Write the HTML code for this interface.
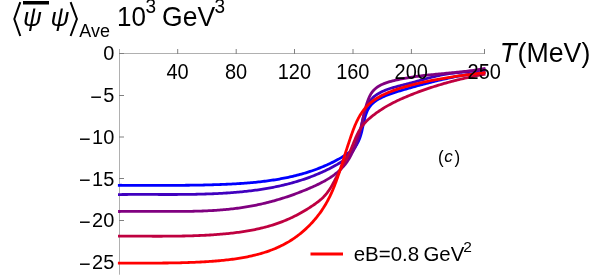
<!DOCTYPE html>
<html><head><meta charset="utf-8">
<style>
html,body{margin:0;padding:0;background:#fff;}
body{width:600px;height:278px;overflow:hidden;position:relative;font-family:"Liberation Sans",sans-serif;}
svg{position:absolute;left:0;top:0;will-change:transform;}
text{font-family:"Liberation Sans",sans-serif;fill:#000;}
</style></head><body>
<svg width="600" height="278" viewBox="0 0 600 278">
<g stroke="#b0b0b0" stroke-width="1" fill="none">
<line x1="119.5" y1="49" x2="119.5" y2="274.7"/>
<line x1="119.5" y1="53.5" x2="485" y2="53.5"/>
</g>
<g stroke="#808080" stroke-width="1" fill="none">
<line x1="177.70" y1="54.0" x2="177.70" y2="49"/>
<line x1="236.20" y1="54.0" x2="236.20" y2="49"/>
<line x1="294.50" y1="54.0" x2="294.50" y2="49"/>
<line x1="353.00" y1="54.0" x2="353.00" y2="49"/>
<line x1="411.40" y1="54.0" x2="411.40" y2="49"/>
<line x1="484.50" y1="54.0" x2="484.50" y2="49"/>
<line x1="119.0" y1="53.50" x2="124" y2="53.50"/>
<line x1="119.0" y1="95.50" x2="124" y2="95.50"/>
<line x1="119.0" y1="137.00" x2="124" y2="137.00"/>
<line x1="119.0" y1="178.50" x2="124" y2="178.50"/>
<line x1="119.0" y1="220.50" x2="124" y2="220.50"/>
<line x1="119.0" y1="262.50" x2="124" y2="262.50"/>
</g>
<g fill="none" stroke-width="2.8" stroke-linecap="butt" stroke-linejoin="round">
<path stroke="#0000ff" d="M117.90,185.28 L119.43,185.28 L120.96,185.27 L122.49,185.28 L124.02,185.28 L125.54,185.28 L127.07,185.28 L128.59,185.28 L130.11,185.28 L131.64,185.29 L133.16,185.29 L134.67,185.29 L136.19,185.30 L137.71,185.30 L139.23,185.31 L140.74,185.31 L142.26,185.32 L143.77,185.32 L145.28,185.33 L146.79,185.33 L148.30,185.33 L149.81,185.34 L151.32,185.34 L152.83,185.35 L154.34,185.35 L155.85,185.35 L157.36,185.35 L158.86,185.36 L160.37,185.36 L161.88,185.36 L163.38,185.36 L164.89,185.36 L166.39,185.36 L167.89,185.36 L169.40,185.36 L170.90,185.35 L172.41,185.35 L173.91,185.34 L175.41,185.34 L176.92,185.33 L178.42,185.32 L179.92,185.32 L181.42,185.31 L182.93,185.29 L184.43,185.28 L185.93,185.27 L187.44,185.25 L188.94,185.24 L190.44,185.22 L191.95,185.20 L193.45,185.18 L194.95,185.16 L196.46,185.14 L197.96,185.11 L199.47,185.08 L200.97,185.06 L202.48,185.03 L203.99,184.99 L205.49,184.96 L207.00,184.92 L208.51,184.89 L210.02,184.85 L211.53,184.81 L213.04,184.76 L214.55,184.72 L216.06,184.67 L217.57,184.62 L219.08,184.57 L220.60,184.51 L222.11,184.45 L223.63,184.39 L225.14,184.33 L226.66,184.27 L228.18,184.20 L229.69,184.13 L231.21,184.05 L232.73,183.97 L234.25,183.89 L235.77,183.81 L237.28,183.72 L238.80,183.62 L240.32,183.52 L241.84,183.42 L243.35,183.31 L244.87,183.20 L246.39,183.09 L247.90,182.96 L249.42,182.84 L250.93,182.71 L252.45,182.57 L253.96,182.43 L255.47,182.28 L256.98,182.12 L258.49,181.96 L260.00,181.80 L261.51,181.62 L263.02,181.45 L264.52,181.26 L266.02,181.07 L267.53,180.87 L269.03,180.66 L270.53,180.45 L272.02,180.23 L273.52,180.00 L275.01,179.76 L276.50,179.52 L277.99,179.27 L279.48,179.01 L280.97,178.74 L282.45,178.46 L283.93,178.18 L285.41,177.89 L286.88,177.58 L288.36,177.27 L289.83,176.95 L291.30,176.62 L292.76,176.28 L294.22,175.94 L295.68,175.58 L297.14,175.21 L298.59,174.83 L300.04,174.44 L301.49,174.04 L302.93,173.64 L304.37,173.22 L305.81,172.79 L307.24,172.35 L308.67,171.89 L310.10,171.43 L311.52,170.96 L312.94,170.47 L314.35,169.97 L315.77,169.46 L317.17,168.94 L318.57,168.41 L319.97,167.86 L321.37,167.31 L322.76,166.74 L324.14,166.15 L325.52,165.56 L326.90,164.95 L328.27,164.33 L329.64,163.69 L331.00,163.04 L332.36,162.38 L333.71,161.71 L335.06,161.02 L336.40,160.31 L337.73,159.60 L339.07,158.86 L340.39,158.12 L341.71,157.36 L343.03,156.58 L344.33,155.79 L345.62,154.97 L346.89,154.14 L348.13,153.27 L349.34,152.37 L350.50,151.43 L351.63,150.46 L352.70,149.44 L353.72,148.38 L354.68,147.26 L355.57,146.10 L356.40,144.89 L357.18,143.64 L357.90,142.35 L358.56,141.01 L359.17,139.64 L359.73,138.24 L360.24,136.80 L360.70,135.33 L361.13,133.85 L361.53,132.34 L361.90,130.82 L362.25,129.29 L362.59,127.75 L362.92,126.21 L363.25,124.67 L363.58,123.13 L363.93,121.60 L364.28,120.09 L364.66,118.59 L365.06,117.12 L365.49,115.67 L365.96,114.24 L366.47,112.86 L367.03,111.50 L367.65,110.19 L368.32,108.93 L369.06,107.71 L369.87,106.55 L370.75,105.44 L371.70,104.38 L372.70,103.37 L373.77,102.42 L374.90,101.52 L376.09,100.67 L377.33,99.86 L378.61,99.10 L379.93,98.38 L381.28,97.70 L382.65,97.05 L384.05,96.42 L385.46,95.82 L386.88,95.24 L388.31,94.69 L389.75,94.15 L391.20,93.63 L392.66,93.12 L394.12,92.63 L395.58,92.16 L397.05,91.69 L398.53,91.24 L400.00,90.79 L401.48,90.35 L402.95,89.92 L404.43,89.49 L405.90,89.07 L407.38,88.65 L408.85,88.23 L410.31,87.81 L411.78,87.40 L413.24,86.98 L414.71,86.58 L416.17,86.17 L417.63,85.77 L419.09,85.37 L420.55,84.97 L422.00,84.58 L423.46,84.19 L424.92,83.81 L426.37,83.42 L427.83,83.05 L429.28,82.67 L430.74,82.30 L432.19,81.93 L433.65,81.57 L435.10,81.21 L436.56,80.86 L438.01,80.51 L439.47,80.16 L440.93,79.82 L442.39,79.49 L443.84,79.15 L445.31,78.83 L446.77,78.51 L448.23,78.19 L449.69,77.88 L451.16,77.57 L452.63,77.27 L454.10,76.97 L455.57,76.68 L457.04,76.39 L458.51,76.11 L459.99,75.84 L461.47,75.57 L462.95,75.30 L464.44,75.05 L465.93,74.79 L467.42,74.55 L468.91,74.31 L470.41,74.08 L471.91,73.85 L473.41,73.63 L474.92,73.41 L476.43,73.21 L477.95,73.00 L479.46,72.81 L480.99,72.62 L482.51,72.44 L484.04,72.27 L485.58,72.10"/>
<path stroke="#4000bf" d="M117.98,194.57 L119.50,194.55 L121.01,194.53 L122.52,194.52 L124.04,194.50 L125.55,194.49 L127.06,194.48 L128.58,194.47 L130.09,194.46 L131.60,194.46 L133.11,194.45 L134.63,194.45 L136.14,194.44 L137.65,194.44 L139.16,194.44 L140.67,194.44 L142.18,194.44 L143.69,194.44 L145.20,194.45 L146.71,194.45 L148.22,194.45 L149.74,194.45 L151.25,194.46 L152.76,194.46 L154.27,194.47 L155.78,194.47 L157.28,194.47 L158.79,194.48 L160.30,194.48 L161.81,194.48 L163.32,194.49 L164.83,194.49 L166.34,194.49 L167.85,194.49 L169.36,194.49 L170.87,194.49 L172.38,194.49 L173.89,194.48 L175.39,194.48 L176.90,194.48 L178.41,194.47 L179.92,194.46 L181.43,194.45 L182.94,194.44 L184.45,194.43 L185.96,194.41 L187.46,194.39 L188.97,194.38 L190.48,194.36 L191.99,194.33 L193.50,194.31 L195.01,194.28 L196.52,194.25 L198.03,194.22 L199.54,194.18 L201.04,194.15 L202.55,194.11 L204.06,194.06 L205.57,194.02 L207.08,193.97 L208.59,193.92 L210.10,193.86 L211.61,193.80 L213.12,193.74 L214.63,193.67 L216.14,193.61 L217.65,193.53 L219.16,193.46 L220.67,193.38 L222.18,193.29 L223.69,193.20 L225.20,193.11 L226.71,193.02 L228.22,192.92 L229.73,192.81 L231.24,192.70 L232.75,192.59 L234.26,192.47 L235.77,192.34 L237.28,192.21 L238.79,192.08 L240.29,191.94 L241.80,191.79 L243.30,191.64 L244.81,191.48 L246.31,191.32 L247.82,191.15 L249.32,190.98 L250.82,190.80 L252.32,190.61 L253.82,190.42 L255.32,190.22 L256.82,190.02 L258.31,189.80 L259.81,189.59 L261.30,189.36 L262.79,189.13 L264.28,188.89 L265.77,188.64 L267.26,188.39 L268.74,188.12 L270.22,187.85 L271.71,187.58 L273.19,187.29 L274.66,187.00 L276.14,186.70 L277.61,186.39 L279.09,186.07 L280.56,185.75 L282.02,185.41 L283.49,185.07 L284.95,184.72 L286.41,184.36 L287.87,183.99 L289.33,183.61 L290.78,183.23 L292.23,182.83 L293.68,182.43 L295.13,182.01 L296.57,181.59 L298.01,181.15 L299.45,180.71 L300.89,180.25 L302.32,179.79 L303.75,179.32 L305.17,178.83 L306.60,178.34 L308.02,177.83 L309.43,177.32 L310.85,176.79 L312.26,176.25 L313.66,175.70 L315.07,175.15 L316.47,174.57 L317.86,173.99 L319.25,173.40 L320.64,172.80 L322.03,172.18 L323.41,171.55 L324.79,170.91 L326.16,170.26 L327.53,169.60 L328.90,168.92 L330.26,168.23 L331.62,167.53 L332.97,166.82 L334.32,166.09 L335.66,165.35 L336.99,164.60 L338.31,163.82 L339.61,163.03 L340.90,162.21 L342.16,161.38 L343.39,160.51 L344.60,159.63 L345.77,158.71 L346.90,157.76 L348.00,156.78 L349.06,155.77 L350.07,154.72 L351.03,153.63 L351.94,152.51 L352.80,151.34 L353.60,150.13 L354.35,148.89 L355.05,147.60 L355.70,146.29 L356.31,144.94 L356.88,143.56 L357.42,142.16 L357.91,140.73 L358.38,139.27 L358.81,137.80 L359.22,136.31 L359.60,134.80 L359.97,133.27 L360.31,131.74 L360.64,130.19 L360.96,128.64 L361.27,127.08 L361.58,125.52 L361.88,123.96 L362.19,122.41 L362.51,120.86 L362.84,119.32 L363.18,117.80 L363.54,116.28 L363.91,114.79 L364.32,113.31 L364.75,111.86 L365.22,110.43 L365.72,109.03 L366.26,107.66 L366.84,106.32 L367.47,105.02 L368.15,103.75 L368.88,102.53 L369.67,101.35 L370.53,100.22 L371.44,99.14 L372.43,98.10 L373.47,97.12 L374.58,96.19 L375.75,95.31 L376.97,94.47 L378.23,93.68 L379.53,92.93 L380.86,92.22 L382.23,91.55 L383.62,90.92 L385.03,90.33 L386.46,89.77 L387.90,89.25 L389.35,88.76 L390.81,88.29 L392.28,87.84 L393.76,87.41 L395.24,87.01 L396.72,86.61 L398.21,86.22 L399.70,85.85 L401.19,85.47 L402.68,85.10 L404.16,84.73 L405.64,84.35 L407.11,83.97 L408.58,83.58 L410.05,83.18 L411.50,82.78 L412.96,82.38 L414.41,81.98 L415.86,81.57 L417.31,81.16 L418.75,80.76 L420.19,80.35 L421.63,79.95 L423.07,79.55 L424.51,79.15 L425.95,78.76 L427.39,78.37 L428.83,77.98 L430.28,77.61 L431.72,77.24 L433.17,76.88 L434.62,76.53 L436.07,76.19 L437.52,75.85 L438.98,75.54 L440.45,75.23 L441.92,74.93 L443.39,74.65 L444.87,74.39 L446.36,74.14 L447.85,73.90 L449.35,73.68 L450.85,73.46 L452.35,73.26 L453.86,73.07 L455.38,72.89 L456.89,72.72 L458.41,72.55 L459.93,72.39 L461.45,72.24 L462.97,72.08 L464.49,71.93 L466.01,71.79 L467.53,71.64 L469.04,71.49 L470.56,71.34 L472.07,71.18 L473.58,71.02 L475.09,70.86 L476.59,70.69 L478.09,70.52 L479.58,70.33 L481.07,70.14 L482.55,69.93 L484.02,69.71 L485.49,69.49"/>
<path stroke="#800080" d="M118.09,211.51 L119.58,211.48 L121.08,211.45 L122.57,211.42 L124.07,211.40 L125.56,211.38 L127.06,211.36 L128.56,211.34 L130.06,211.33 L131.56,211.32 L133.07,211.31 L134.57,211.30 L136.07,211.30 L137.58,211.30 L139.08,211.30 L140.59,211.30 L142.10,211.30 L143.60,211.31 L145.11,211.31 L146.62,211.32 L148.13,211.32 L149.64,211.33 L151.15,211.34 L152.66,211.35 L154.18,211.36 L155.69,211.37 L157.20,211.38 L158.71,211.39 L160.23,211.40 L161.74,211.41 L163.26,211.42 L164.77,211.42 L166.28,211.43 L167.80,211.44 L169.31,211.44 L170.83,211.44 L172.35,211.45 L173.86,211.45 L175.38,211.45 L176.89,211.44 L178.41,211.44 L179.92,211.43 L181.44,211.42 L182.95,211.41 L184.47,211.40 L185.98,211.38 L187.50,211.36 L189.01,211.34 L190.53,211.32 L192.04,211.29 L193.56,211.26 L195.07,211.22 L196.59,211.18 L198.10,211.14 L199.61,211.09 L201.12,211.04 L202.63,210.99 L204.15,210.93 L205.66,210.87 L207.17,210.80 L208.68,210.72 L210.19,210.65 L211.69,210.56 L213.20,210.48 L214.71,210.38 L216.21,210.28 L217.72,210.18 L219.22,210.07 L220.73,209.95 L222.23,209.83 L223.73,209.70 L225.23,209.57 L226.73,209.43 L228.23,209.28 L229.73,209.12 L231.23,208.96 L232.73,208.79 L234.22,208.62 L235.71,208.44 L237.21,208.25 L238.70,208.05 L240.19,207.84 L241.68,207.63 L243.17,207.41 L244.65,207.18 L246.14,206.94 L247.62,206.69 L249.10,206.44 L250.59,206.17 L252.06,205.90 L253.54,205.62 L255.02,205.33 L256.49,205.03 L257.97,204.72 L259.44,204.41 L260.91,204.08 L262.38,203.75 L263.85,203.41 L265.31,203.06 L266.77,202.70 L268.24,202.33 L269.69,201.95 L271.15,201.57 L272.61,201.18 L274.06,200.78 L275.52,200.37 L276.97,199.95 L278.41,199.53 L279.86,199.09 L281.30,198.65 L282.75,198.20 L284.19,197.74 L285.62,197.28 L287.06,196.80 L288.49,196.32 L289.93,195.83 L291.35,195.33 L292.78,194.83 L294.21,194.31 L295.63,193.79 L297.05,193.26 L298.46,192.72 L299.88,192.18 L301.29,191.63 L302.70,191.07 L304.11,190.50 L305.51,189.92 L306.92,189.34 L308.32,188.75 L309.71,188.15 L311.11,187.55 L312.50,186.93 L313.89,186.31 L315.27,185.68 L316.64,185.04 L318.01,184.38 L319.37,183.71 L320.73,183.03 L322.07,182.34 L323.40,181.63 L324.72,180.90 L326.03,180.15 L327.33,179.39 L328.61,178.61 L329.87,177.81 L331.12,176.98 L332.36,176.14 L333.57,175.27 L334.77,174.38 L335.94,173.46 L337.10,172.52 L338.24,171.55 L339.35,170.56 L340.44,169.54 L341.50,168.48 L342.54,167.40 L343.55,166.30 L344.52,165.16 L345.47,164.00 L346.38,162.80 L347.25,161.59 L348.09,160.34 L348.88,159.06 L349.64,157.76 L350.37,156.43 L351.06,155.09 L351.72,153.72 L352.35,152.34 L352.95,150.94 L353.54,149.53 L354.10,148.11 L354.64,146.68 L355.17,145.25 L355.69,143.81 L356.19,142.37 L356.69,140.93 L357.18,139.49 L357.66,138.06 L358.14,136.63 L358.60,135.20 L359.06,133.77 L359.50,132.34 L359.92,130.91 L360.33,129.47 L360.72,128.03 L361.09,126.58 L361.45,125.14 L361.80,123.68 L362.14,122.23 L362.47,120.77 L362.81,119.30 L363.14,117.83 L363.47,116.36 L363.81,114.89 L364.16,113.41 L364.52,111.93 L364.89,110.45 L365.27,108.96 L365.68,107.48 L366.10,105.98 L366.55,104.49 L367.03,103.00 L367.53,101.50 L368.07,100.01 L368.65,98.54 L369.27,97.10 L369.95,95.71 L370.67,94.36 L371.46,93.08 L372.31,91.87 L373.23,90.75 L374.22,89.70 L375.26,88.72 L376.36,87.81 L377.52,86.97 L378.72,86.19 L379.97,85.47 L381.26,84.80 L382.59,84.18 L383.95,83.60 L385.34,83.07 L386.75,82.58 L388.19,82.12 L389.64,81.69 L391.12,81.29 L392.60,80.91 L394.08,80.54 L395.57,80.20 L397.07,79.86 L398.56,79.54 L400.05,79.23 L401.54,78.93 L403.04,78.64 L404.53,78.36 L406.03,78.09 L407.52,77.83 L409.02,77.58 L410.51,77.34 L412.01,77.11 L413.51,76.88 L415.01,76.66 L416.50,76.45 L418.00,76.25 L419.50,76.06 L421.00,75.87 L422.50,75.68 L424.00,75.50 L425.50,75.33 L427.00,75.16 L428.50,75.00 L430.00,74.84 L431.50,74.69 L433.00,74.53 L434.50,74.38 L436.01,74.24 L437.51,74.09 L439.01,73.95 L440.51,73.81 L442.01,73.67 L443.51,73.53 L445.01,73.39 L446.52,73.25 L448.02,73.11 L449.52,72.97 L451.02,72.83 L452.52,72.69 L454.02,72.54 L455.52,72.40 L457.02,72.25 L458.52,72.09 L460.02,71.94 L461.52,71.78 L463.02,71.62 L464.52,71.45 L466.02,71.28 L467.52,71.10 L469.02,70.91 L470.52,70.72 L472.02,70.53 L473.51,70.33 L475.01,70.12 L476.51,69.90 L478.00,69.68 L479.50,69.44 L480.99,69.20 L482.49,68.95 L483.98,68.69 L485.47,68.42"/>
<path stroke="#bf0040" d="M117.98,236.20 L119.49,236.19 L121.00,236.19 L122.52,236.18 L124.03,236.18 L125.54,236.18 L127.06,236.17 L128.57,236.17 L130.08,236.17 L131.59,236.17 L133.10,236.18 L134.62,236.18 L136.13,236.18 L137.64,236.19 L139.15,236.19 L140.66,236.19 L142.17,236.20 L143.68,236.20 L145.19,236.21 L146.70,236.21 L148.21,236.22 L149.72,236.22 L151.22,236.22 L152.73,236.23 L154.24,236.23 L155.75,236.23 L157.26,236.23 L158.77,236.23 L160.27,236.23 L161.78,236.23 L163.29,236.22 L164.80,236.22 L166.30,236.21 L167.81,236.21 L169.32,236.20 L170.83,236.18 L172.33,236.17 L173.84,236.16 L175.35,236.14 L176.85,236.12 L178.36,236.10 L179.87,236.08 L181.37,236.05 L182.88,236.02 L184.39,235.99 L185.89,235.96 L187.40,235.92 L188.91,235.88 L190.41,235.84 L191.92,235.80 L193.43,235.75 L194.93,235.70 L196.44,235.64 L197.95,235.58 L199.45,235.52 L200.96,235.45 L202.47,235.39 L203.97,235.31 L205.48,235.23 L206.99,235.15 L208.50,235.07 L210.00,234.98 L211.51,234.88 L213.02,234.78 L214.53,234.68 L216.04,234.57 L217.54,234.46 L219.05,234.34 L220.56,234.22 L222.07,234.09 L223.58,233.96 L225.09,233.82 L226.59,233.68 L228.10,233.52 L229.61,233.37 L231.11,233.20 L232.62,233.03 L234.12,232.86 L235.63,232.67 L237.13,232.48 L238.63,232.28 L240.13,232.07 L241.63,231.86 L243.12,231.63 L244.62,231.40 L246.11,231.16 L247.60,230.91 L249.09,230.65 L250.57,230.38 L252.06,230.10 L253.54,229.81 L255.01,229.51 L256.49,229.20 L257.96,228.88 L259.43,228.55 L260.89,228.21 L262.36,227.86 L263.82,227.49 L265.27,227.12 L266.72,226.73 L268.17,226.33 L269.61,225.91 L271.05,225.49 L272.49,225.05 L273.92,224.60 L275.35,224.13 L276.77,223.65 L278.19,223.16 L279.60,222.66 L281.01,222.13 L282.41,221.60 L283.81,221.05 L285.20,220.49 L286.59,219.91 L287.97,219.31 L289.34,218.70 L290.71,218.07 L292.08,217.43 L293.44,216.77 L294.79,216.10 L296.13,215.42 L297.47,214.71 L298.81,214.00 L300.13,213.27 L301.46,212.53 L302.77,211.78 L304.08,211.01 L305.38,210.24 L306.68,209.45 L307.97,208.65 L309.26,207.84 L310.54,207.02 L311.81,206.19 L313.07,205.35 L314.32,204.49 L315.56,203.62 L316.78,202.73 L317.97,201.82 L319.15,200.89 L320.30,199.93 L321.43,198.95 L322.52,197.94 L323.58,196.90 L324.60,195.82 L325.58,194.72 L326.53,193.58 L327.44,192.40 L328.32,191.20 L329.16,189.97 L329.98,188.72 L330.78,187.45 L331.55,186.16 L332.31,184.86 L333.05,183.54 L333.77,182.21 L334.49,180.87 L335.20,179.53 L335.90,178.18 L336.60,176.84 L337.31,175.50 L338.01,174.16 L338.72,172.82 L339.43,171.48 L340.14,170.15 L340.85,168.82 L341.56,167.50 L342.28,166.17 L343.00,164.85 L343.72,163.53 L344.44,162.21 L345.16,160.89 L345.88,159.57 L346.60,158.25 L347.30,156.92 L347.99,155.58 L348.67,154.23 L349.33,152.87 L349.97,151.49 L350.59,150.10 L351.20,148.70 L351.79,147.29 L352.37,145.88 L352.95,144.46 L353.52,143.04 L354.10,141.62 L354.68,140.21 L355.27,138.80 L355.87,137.41 L356.49,136.02 L357.12,134.66 L357.78,133.31 L358.47,131.98 L359.19,130.68 L359.94,129.41 L360.73,128.16 L361.56,126.95 L362.43,125.77 L363.35,124.62 L364.30,123.50 L365.29,122.41 L366.32,121.35 L367.37,120.32 L368.46,119.30 L369.57,118.31 L370.71,117.34 L371.87,116.39 L373.06,115.46 L374.26,114.54 L375.47,113.63 L376.70,112.74 L377.95,111.86 L379.20,110.99 L380.47,110.14 L381.74,109.30 L383.03,108.48 L384.32,107.68 L385.62,106.89 L386.93,106.12 L388.25,105.38 L389.57,104.65 L390.90,103.93 L392.23,103.23 L393.57,102.55 L394.91,101.88 L396.26,101.22 L397.62,100.58 L398.98,99.95 L400.35,99.32 L401.72,98.71 L403.09,98.11 L404.47,97.51 L405.85,96.92 L407.24,96.34 L408.63,95.77 L410.02,95.20 L411.42,94.64 L412.82,94.08 L414.22,93.53 L415.62,92.99 L417.03,92.45 L418.45,91.92 L419.86,91.40 L421.28,90.88 L422.70,90.37 L424.13,89.87 L425.55,89.37 L426.98,88.88 L428.42,88.40 L429.85,87.92 L431.29,87.45 L432.73,86.98 L434.17,86.52 L435.61,86.07 L437.06,85.62 L438.51,85.18 L439.96,84.74 L441.41,84.31 L442.86,83.89 L444.32,83.47 L445.77,83.06 L447.23,82.65 L448.69,82.25 L450.15,81.85 L451.62,81.47 L453.08,81.08 L454.55,80.71 L456.01,80.33 L457.48,79.97 L458.95,79.61 L460.42,79.25 L461.89,78.90 L463.36,78.56 L464.83,78.22 L466.30,77.89 L467.77,77.56 L469.24,77.24 L470.72,76.92 L472.19,76.61 L473.66,76.30 L475.14,76.00 L476.61,75.71 L478.08,75.42 L479.55,75.13 L481.03,74.85 L482.50,74.58 L483.97,74.31 L485.44,74.04"/>
<path stroke="#ff0000" d="M117.90,263.12 L119.43,263.11 L120.96,263.11 L122.49,263.10 L124.01,263.10 L125.53,263.09 L127.06,263.09 L128.58,263.09 L130.09,263.09 L131.61,263.08 L133.13,263.08 L134.64,263.08 L136.15,263.08 L137.67,263.08 L139.18,263.08 L140.69,263.08 L142.19,263.08 L143.70,263.08 L145.21,263.08 L146.71,263.08 L148.22,263.08 L149.72,263.08 L151.22,263.08 L152.72,263.07 L154.22,263.07 L155.72,263.07 L157.22,263.06 L158.72,263.05 L160.22,263.04 L161.72,263.03 L163.22,263.02 L164.71,263.01 L166.21,263.00 L167.71,262.98 L169.20,262.96 L170.70,262.94 L172.19,262.92 L173.69,262.90 L175.19,262.87 L176.68,262.84 L178.18,262.81 L179.68,262.78 L181.17,262.74 L182.67,262.70 L184.17,262.66 L185.67,262.62 L187.16,262.57 L188.66,262.52 L190.16,262.47 L191.66,262.41 L193.16,262.35 L194.66,262.29 L196.17,262.22 L197.67,262.15 L199.17,262.08 L200.68,262.00 L202.18,261.92 L203.69,261.84 L205.20,261.75 L206.71,261.65 L208.22,261.55 L209.73,261.45 L211.24,261.35 L212.76,261.23 L214.27,261.12 L215.79,261.00 L217.31,260.87 L218.82,260.74 L220.34,260.60 L221.86,260.46 L223.38,260.31 L224.90,260.15 L226.41,259.98 L227.93,259.81 L229.45,259.63 L230.96,259.44 L232.48,259.25 L233.99,259.04 L235.50,258.83 L237.01,258.61 L238.51,258.38 L240.01,258.14 L241.52,257.88 L243.01,257.62 L244.51,257.35 L246.00,257.07 L247.49,256.77 L248.97,256.47 L250.45,256.15 L251.93,255.82 L253.40,255.48 L254.86,255.13 L256.33,254.76 L257.78,254.38 L259.24,253.98 L260.68,253.58 L262.12,253.16 L263.56,252.72 L264.98,252.27 L266.41,251.80 L267.82,251.32 L269.23,250.83 L270.63,250.31 L272.03,249.79 L273.41,249.24 L274.79,248.68 L276.16,248.10 L277.52,247.51 L278.88,246.89 L280.23,246.26 L281.56,245.61 L282.89,244.95 L284.21,244.26 L285.52,243.56 L286.82,242.83 L288.11,242.09 L289.39,241.33 L290.66,240.54 L291.92,239.74 L293.17,238.91 L294.40,238.07 L295.63,237.21 L296.84,236.33 L298.05,235.43 L299.24,234.51 L300.41,233.57 L301.58,232.62 L302.73,231.65 L303.87,230.66 L305.00,229.66 L306.11,228.64 L307.21,227.60 L308.29,226.55 L309.36,225.48 L310.42,224.39 L311.45,223.30 L312.48,222.18 L313.49,221.06 L314.48,219.92 L315.46,218.76 L316.42,217.59 L317.36,216.41 L318.29,215.22 L319.20,214.02 L320.09,212.80 L320.97,211.57 L321.83,210.33 L322.66,209.08 L323.49,207.82 L324.29,206.54 L325.07,205.26 L325.83,203.97 L326.58,202.67 L327.31,201.35 L328.01,200.03 L328.70,198.71 L329.38,197.37 L330.04,196.02 L330.68,194.67 L331.30,193.31 L331.92,191.95 L332.52,190.57 L333.10,189.19 L333.68,187.81 L334.24,186.42 L334.79,185.02 L335.33,183.62 L335.86,182.21 L336.38,180.80 L336.89,179.39 L337.39,177.97 L337.88,176.55 L338.37,175.12 L338.85,173.70 L339.33,172.27 L339.80,170.83 L340.26,169.40 L340.72,167.96 L341.18,166.53 L341.64,165.09 L342.09,163.65 L342.54,162.21 L342.99,160.78 L343.44,159.34 L343.89,157.90 L344.34,156.47 L344.79,155.03 L345.24,153.60 L345.70,152.17 L346.16,150.74 L346.62,149.31 L347.09,147.89 L347.56,146.47 L348.03,145.04 L348.50,143.62 L348.98,142.20 L349.46,140.77 L349.94,139.34 L350.42,137.91 L350.90,136.48 L351.40,135.05 L351.90,133.62 L352.40,132.18 L352.93,130.76 L353.46,129.33 L354.01,127.91 L354.58,126.49 L355.17,125.08 L355.77,123.68 L356.40,122.29 L357.06,120.91 L357.73,119.54 L358.43,118.19 L359.16,116.86 L359.92,115.55 L360.70,114.26 L361.51,113.00 L362.35,111.76 L363.22,110.56 L364.13,109.38 L365.07,108.25 L366.04,107.14 L367.05,106.08 L368.09,105.05 L369.15,104.05 L370.25,103.08 L371.38,102.15 L372.54,101.25 L373.72,100.38 L374.93,99.54 L376.16,98.73 L377.42,97.95 L378.70,97.19 L379.99,96.46 L381.31,95.76 L382.65,95.07 L384.00,94.42 L385.37,93.78 L386.76,93.16 L388.16,92.57 L389.57,92.00 L390.99,91.44 L392.42,90.90 L393.86,90.38 L395.31,89.87 L396.77,89.38 L398.23,88.90 L399.70,88.44 L401.17,87.98 L402.64,87.54 L404.11,87.11 L405.59,86.69 L407.06,86.28 L408.53,85.87 L410.00,85.47 L411.47,85.09 L412.94,84.70 L414.41,84.33 L415.87,83.97 L417.34,83.61 L418.81,83.26 L420.28,82.92 L421.74,82.58 L423.21,82.25 L424.67,81.93 L426.14,81.61 L427.61,81.30 L429.07,81.00 L430.54,80.70 L432.01,80.41 L433.47,80.12 L434.94,79.84 L436.41,79.57 L437.88,79.30 L439.35,79.03 L440.82,78.77 L442.29,78.51 L443.76,78.26 L445.23,78.02 L446.70,77.77 L448.18,77.53 L449.65,77.30 L451.13,77.07 L452.60,76.84 L454.08,76.62 L455.56,76.40 L457.04,76.18 L458.53,75.96 L460.01,75.75 L461.50,75.54 L462.98,75.33 L464.47,75.13 L465.96,74.92 L467.46,74.72 L468.95,74.52 L470.45,74.32 L471.95,74.13 L473.45,73.93 L474.95,73.74 L476.45,73.54 L477.96,73.35 L479.47,73.16 L480.99,72.97 L482.50,72.78 L484.02,72.58 L485.54,72.39"/>

</g>
<line x1="310.5" y1="254" x2="343" y2="254" stroke="#ff0000" stroke-width="2.8"/>
<text transform="translate(353.70,260.70) scale(1.025,1.045)" font-size="20">eB=0.8</text>

<text transform="translate(423.50,260.70) scale(1.020,1.045)" font-size="20">GeV</text>

<text transform="translate(463.20,252.10) scale(1.000,1.000)" font-size="15.5">2</text>

<text transform="translate(177.60,78.80) scale(1.000,1.090)" font-size="20" text-anchor="middle">40</text>

<text transform="translate(236.00,78.80) scale(1.000,1.090)" font-size="20" text-anchor="middle">80</text>

<text transform="translate(294.40,78.80) scale(1.000,1.090)" font-size="20" text-anchor="middle">120</text>

<text transform="translate(352.80,78.80) scale(1.000,1.090)" font-size="20" text-anchor="middle">160</text>

<text transform="translate(411.20,78.80) scale(1.000,1.090)" font-size="20" text-anchor="middle">200</text>

<text transform="translate(484.20,78.80) scale(1.000,1.090)" font-size="20" text-anchor="middle">250</text>

<text transform="translate(114.30,60.40) scale(1.000,1.045)" font-size="20" text-anchor="end">0</text>

<text transform="translate(114.30,102.10) scale(1.000,1.045)" font-size="20" text-anchor="end">5</text>

<text transform="translate(101.88,103.90) scale(1.000,1.045)" font-size="20" text-anchor="end">−</text>

<text transform="translate(114.30,143.80) scale(1.000,1.045)" font-size="20" text-anchor="end">10</text>

<text transform="translate(90.76,145.60) scale(1.000,1.045)" font-size="20" text-anchor="end">−</text>

<text transform="translate(114.30,185.50) scale(1.000,1.045)" font-size="20" text-anchor="end">15</text>

<text transform="translate(90.76,187.30) scale(1.000,1.045)" font-size="20" text-anchor="end">−</text>

<text transform="translate(114.30,227.20) scale(1.000,1.045)" font-size="20" text-anchor="end">20</text>

<text transform="translate(90.76,229.00) scale(1.000,1.045)" font-size="20" text-anchor="end">−</text>

<text transform="translate(114.30,268.90) scale(1.000,1.045)" font-size="20" text-anchor="end">25</text>

<text transform="translate(90.76,270.70) scale(1.000,1.045)" font-size="20" text-anchor="end">−</text>

<text transform="translate(499.80,61.80) scale(1.020,1.030)" font-size="27" font-style="italic">T</text>

<text transform="translate(517.60,61.80) scale(0.990,1.030)" font-size="27">(MeV)</text>

<g stroke="#000" stroke-width="2" fill="none"><polyline points="20.3,2.2 14.3,19 20.3,36"/><polyline points="70.6,2.2 76.9,19 70.6,36"/></g>
<rect x="23" y="1" width="26" height="3.5" fill="#000"/>
<text transform="translate(23.00,26.00) scale(1.000,1.000)" font-size="26" font-style="italic">ψ</text>

<text transform="translate(50.50,26.00) scale(1.000,1.000)" font-size="26" font-style="italic">ψ</text>

<text transform="translate(79.30,37.30) scale(1.000,1.045)" font-size="18">Ave</text>

<text transform="translate(117.00,26.20) scale(1.000,1.045)" font-size="26">10</text>

<text transform="translate(145.60,13.20) scale(1.000,1.045)" font-size="19">3</text>

<text transform="translate(162.10,26.20) scale(1.020,1.045)" font-size="26">GeV</text>

<text transform="translate(214.60,13.20) scale(1.000,1.045)" font-size="19">3</text>

<text transform="translate(437.90,162.60) scale(1.000,1.060)" font-size="17">(</text>

<text transform="translate(444.30,162.40) scale(1.000,1.000)" font-size="17" font-style="italic">c</text>

<text transform="translate(454.50,162.60) scale(1.000,1.060)" font-size="17">)</text>

</svg>
</body></html>
